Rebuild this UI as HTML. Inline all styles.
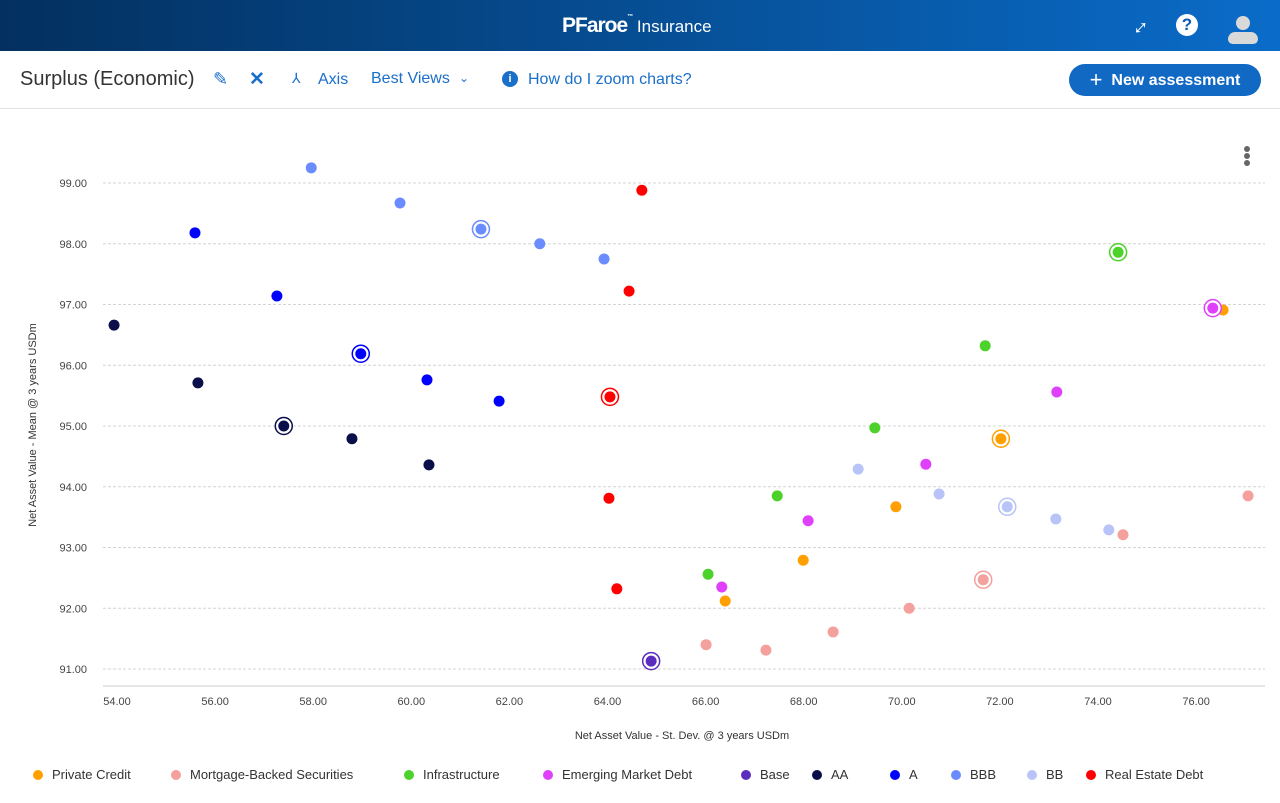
<!DOCTYPE html>
<html><head><meta charset="utf-8"><style>
body{margin:0;width:1280px;height:803px;overflow:hidden;background:#fff;font-family:"Liberation Sans",sans-serif;position:relative}
.hdr{position:absolute;left:0;top:0;width:1280px;height:51px;background:linear-gradient(90deg,#03305f,#0a6cc9)}
.tb{position:absolute;left:0;top:51px;width:1280px;height:57px;border-bottom:1px solid #e2e2e2}
a{color:#1a6fc9}
.lg{position:absolute;top:767px;font-size:13px;color:#333;display:flex;align-items:center}
.lg i{display:inline-block;width:10px;height:10px;border-radius:50%;margin-right:9px}
</style></head><body>
<div class="hdr">
 <div style="position:absolute;left:562px;top:14px;color:#fff;font-size:21px;font-weight:bold;letter-spacing:-1px">PFaroe<span style="font-size:6px;vertical-align:top">™</span><span style="font-weight:normal;font-size:17px;letter-spacing:0"> Insurance</span></div>
 <div style="position:absolute;left:1136px;top:14px;color:#fff;font-size:22px;transform:rotate(45deg)">↕</div>
 <div style="position:absolute;left:1176px;top:14px;width:22px;height:22px;border-radius:50%;background:#fff;color:#0a5cb0;font-weight:bold;text-align:center;line-height:22px;font-size:17px">?</div>
 <div style="position:absolute;left:1228px;top:14px;width:30px;height:32px">
  <div style="position:absolute;left:8px;top:2px;width:14px;height:14px;border-radius:50%;background:#d9d9d9"></div>
  <div style="position:absolute;left:0;top:18px;width:30px;height:12px;border-radius:15px 15px 10px 10px;background:#d9d9d9"></div>
 </div>
</div>
<div class="tb">
 <div style="position:absolute;left:20px;top:17px;font-size:20px;color:#333">Surplus (Economic)</div>
 <div style="position:absolute;left:213px;top:18px;color:#1a6fc9;font-size:18px">✎</div>
 <div style="position:absolute;left:249px;top:17px;color:#1a6fc9;font-size:19px;font-weight:bold">✕</div>
 <div style="position:absolute;left:292px;top:19px;color:#1a6fc9;font-size:14px">⅄</div>
 <a style="position:absolute;left:318px;top:20px;font-size:16px">Axis</a>
 <a style="position:absolute;left:371px;top:19px;font-size:16px">Best Views</a>
 <div style="position:absolute;left:459px;top:20px;color:#1a6fc9;font-size:12px">&#8964;</div>
 <div style="position:absolute;left:502px;top:20px;width:16px;height:16px;border-radius:50%;background:#1a6fc9;color:#fff;font-size:11px;font-weight:bold;text-align:center;line-height:16px">i</div>
 <a style="position:absolute;left:528px;top:20px;font-size:16px">How do I zoom charts?</a>
 <div style="position:absolute;left:1069px;top:13px;width:192px;height:32px;border-radius:16px;background:#1169c4;color:#fff;font-size:16px;font-weight:bold;line-height:31px;text-align:center"><span style="font-size:22px;font-weight:normal;vertical-align:-2px">+</span>&nbsp; New assessment</div>
</div>
<div style="position:absolute;left:1244px;top:146px;width:6px">
 <div style="width:6px;height:6px;border-radius:50%;background:#666;margin-bottom:1px"></div><div style="width:6px;height:6px;border-radius:50%;background:#666;margin-bottom:1px"></div><div style="width:6px;height:6px;border-radius:50%;background:#666"></div>
</div>
<svg id="chart" width="1280" height="803" style="position:absolute;left:0;top:0"></svg>
<div id="legend"></div>
<script>
const xTicks=[54,56,58,60,62,64,66,68,70,72,74,76];
const yTicks=[91,92,93,94,95,96,97,98,99];
const seriesNames=["Private Credit","Mortgage-Backed Securities","Infrastructure","Emerging Market Debt","Base","AA","A","BBB","BB","Real Estate Debt"];
const seriesColors=["#ffa000","#f4a09c","#4cd22a","#e040fb","#5b2dbf","#0a0f4a","#0000ff","#6b8cff","#b8c4f8","#ff0000"];
const pcX=[76.55,72.02,69.88,67.99,66.40], pcY=[96.91,94.79,93.67,92.79,92.12];
const mbsX=[77.06,74.51,71.66,70.15,68.60,67.23,66.01], mbsY=[93.85,93.21,92.47,92.00,91.61,91.31,91.40];
const infX=[74.41,71.70,69.45,67.46,66.05], infY=[97.86,96.32,94.97,93.85,92.56];
const emdX=[76.34,73.16,70.49,68.09,66.33], emdY=[96.94,95.56,94.37,93.44,92.35];
const baseX=[64.89], baseY=[91.13];
const aaX=[53.94,55.65,57.40,58.79,60.36], aaY=[96.66,95.71,95.00,94.79,94.36];
const aX=[55.59,57.26,58.97,60.32,61.79], aY=[98.18,97.14,96.19,95.76,95.41];
const bbbX=[57.96,59.77,61.42,62.62,63.93], bbbY=[99.25,98.67,98.24,98.00,97.75];
const bbX=[69.11,70.76,72.15,73.14,74.22], bbY=[94.29,93.88,93.67,93.47,93.29];
const redX=[64.70,64.44,64.05,64.03,64.19], redY=[98.88,97.22,95.48,93.81,92.32];
const selectedIdx=[1,2,0,0,0,2,2,2,2,2];
const allX=[pcX,mbsX,infX,emdX,baseX,aaX,aX,bbbX,bbX,redX];
const allY=[pcY,mbsY,infY,emdY,baseY,aaY,aY,bbbY,bbY,redY];

const sx=v=>117+(v-54)*49.05;
const sy=v=>183+(99-v)*60.75;
const svg=document.getElementById('chart');
const NS='http://www.w3.org/2000/svg';
function mk(t,a){const e=document.createElementNS(NS,t);for(const k in a)e.setAttribute(k,a[k]);svg.appendChild(e);return e;}
yTicks.forEach(t=>{
 const l=mk('line',{x1:103,x2:1265,y1:sy(t),y2:sy(t),stroke:'#d4d4d4','stroke-dasharray':'3,2'});
 
 
 const tx=mk('text',{x:87,y:sy(t)+4,'text-anchor':'end','font-size':11,fill:'#444','font-family':'Liberation Sans'});
 tx.textContent=t.toFixed(2);
 
 
});
const ax=mk('line',{x1:103,x2:1265,y1:686,y2:686,stroke:'#ccc'});


xTicks.forEach(t=>{
 const tx=mk('text',{x:sx(t),y:705,'text-anchor':'middle','font-size':11,fill:'#444','font-family':'Liberation Sans'});
 tx.textContent=t.toFixed(2);
 
 
});
const xt=mk('text',{x:682,y:739,'text-anchor':'middle','font-size':11,fill:'#333','font-family':'Liberation Sans'});
xt.textContent='Net Asset Value - St. Dev. @ 3 years USDm';


const yt=mk('text',{x:0,y:0,'text-anchor':'middle','font-size':11,fill:'#333','font-family':'Liberation Sans',transform:'translate(36,425) rotate(-90)'});
yt.textContent='Net Asset Value - Mean @ 3 years USDm';


allX.forEach((xs,s)=>{
 xs.forEach((xv,i)=>{
  const cx=sx(xv),cy=sy(allY[s][i]);
  if(i===selectedIdx[s]){
   const r=mk('circle',{cx:cx,cy:cy,r:8.5,fill:'#fff',stroke:seriesColors[s],'stroke-width':1.5});
   
   
  }
  const c=mk('circle',{cx:cx,cy:cy,r:5.5,fill:seriesColors[s]});
  
  
 });
});
const legendX=[33,171,404,543,741,812,890,951,1027,1086];
const lg=document.getElementById('legend');
seriesNames.forEach((n,s)=>{
 const d=document.createElement('div');
 d.className='lg';
 d.style.left=legendX[s]+'px';
 
 
 d.innerHTML='<i style="background:'+seriesColors[s]+'"></i>'+n;
 lg.appendChild(d);
});
</script>
</body></html>
